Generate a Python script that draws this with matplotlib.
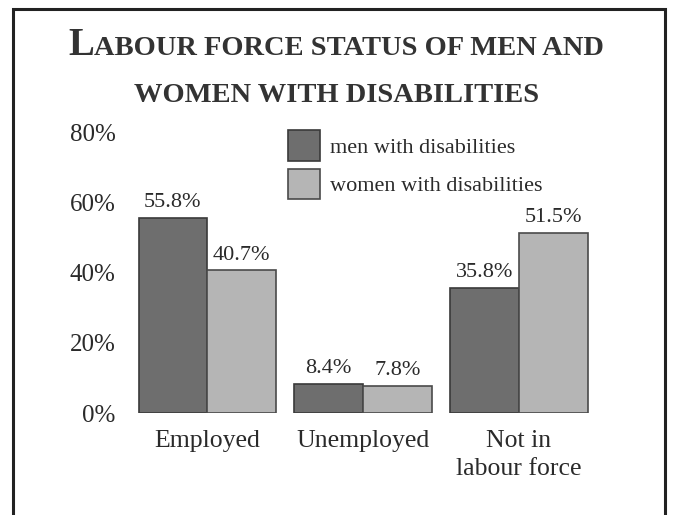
import numpy as np
import matplotlib.pyplot as plt
from matplotlib.patches import Rectangle, Patch

categories = ['Employed', 'Unemployed', 'Not in\nlabour force']
men = [55.8, 8.4, 35.8]
women = [40.7, 7.8, 51.5]
yticks = [0, 20, 40, 60, 80]
series_names = ['men with disabilities', 'women with disabilities']

plt.rcParams['font.family'] = 'Liberation Serif'
ink = '#2a2a2a'
dark = '#6e6e6e'
light = '#b5b5b5'

fig = plt.figure(figsize=(6.73, 5.15), dpi=100)
ax = fig.add_axes([0.178, 0.198, 0.767, 0.544])

x = np.arange(len(categories))
w = 0.44
b1 = ax.bar(x - w/2, men, w, color=dark, edgecolor='#3a3a3a', linewidth=1.2)
b2 = ax.bar(x + w/2, women, w, color=light, edgecolor='#4a4a4a', linewidth=1.2)
ax.bar_label(b1, labels=['%.1f%%' % v for v in men], padding=4, fontsize=16, color=ink)
ax.bar_label(b2, labels=['%.1f%%' % v for v in women], padding=4, fontsize=16, color=ink)

ax.set_xlim(-0.56, 2.75)
ax.set_ylim(0, 80)
ax.set_yticks(yticks)
ax.set_yticklabels(['%d%%' % t for t in yticks], fontsize=18, color=ink)
ax.set_xticks(x)
ax.set_xticklabels(categories, fontsize=18.5, color=ink, linespacing=1.35)
ax.tick_params(axis='y', length=0, pad=3)
ax.tick_params(axis='x', length=0, pad=12)
for s in ax.spines.values():
    s.set_visible(False)

# legend with square swatches
handles = [Patch(facecolor=dark, edgecolor='#3a3a3a', linewidth=1.2),
           Patch(facecolor=light, edgecolor='#4a4a4a', linewidth=1.2)]
fig.legend(handles, series_names, loc='upper left', bbox_to_anchor=(288/673, 1 - 130/515),
           frameon=False, fontsize=16, handlelength=1.45, handleheight=1.75,
           handletextpad=0.45, labelspacing=0.36, borderpad=0, borderaxespad=0,
           labelcolor=ink)

# small-caps title: a tall initial L followed by smaller capitals, centred as one line
title_kw = dict(fontweight='bold', color='#333333', va='baseline', ha='left')
t_big = fig.text(0, 1 - 55/515, 'L', fontsize=28, **title_kw)
t_rest = fig.text(0, 1 - 55/515, 'ABOUR FORCE STATUS OF MEN AND', fontsize=20.5, **title_kw)
renderer = fig.canvas.get_renderer()
w_big = t_big.get_window_extent(renderer).width
w_rest = t_rest.get_window_extent(renderer).width
x0 = (673 - w_big - w_rest) / 2
t_big.set_x(x0 / 673)
t_rest.set_x((x0 + w_big) / 673)
fig.text(0.5, 1 - 102/515, 'WOMEN WITH DISABILITIES', ha='center', va='baseline',
         fontsize=20.5, fontweight='bold', color='#333333')

# outer frame
fig.add_artist(Rectangle((13/673, -0.05), (665 - 13)/673, 1.05 - 9/515, transform=fig.transFigure,
                         fill=False, edgecolor='#222222', linewidth=2.2))

fig.savefig('out.png', dpi=100)
